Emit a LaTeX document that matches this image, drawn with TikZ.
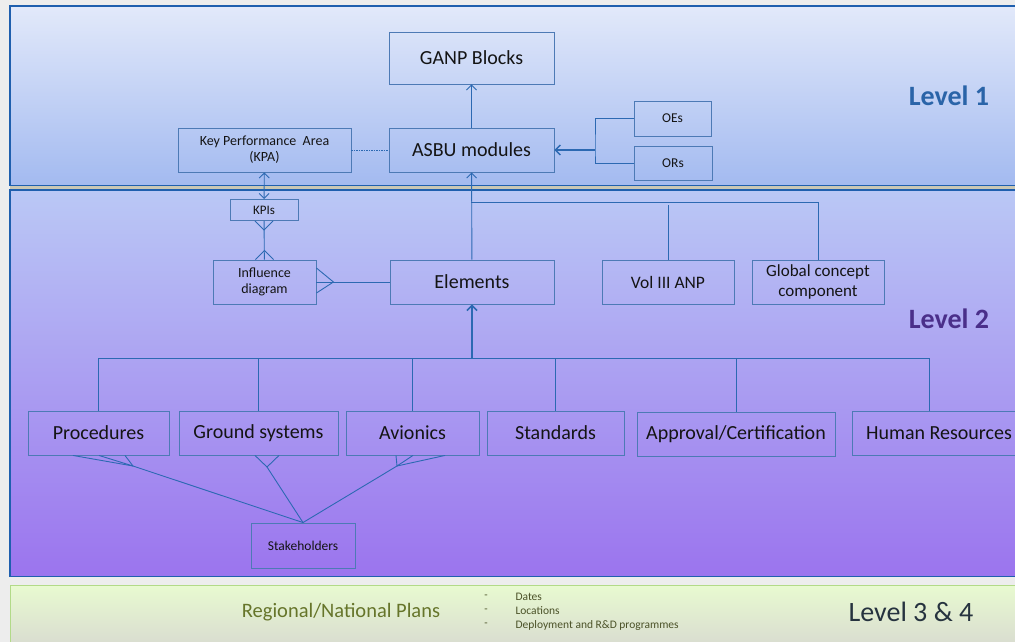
\documentclass[tikz,border=0pt]{standalone}
\usepackage{fontspec}
\setmainfont{Carlito}
\usetikzlibrary{arrows.meta}

\definecolor{frameblue}{HTML}{1F5FAE}
\definecolor{boxline}{HTML}{4D7AB5}
\definecolor{wire}{HTML}{2C69B2}
\definecolor{lvlonetop}{HTML}{E2E9FA}
\definecolor{lvlonebot}{HTML}{A3BAF0}
\definecolor{lvltwotop}{HTML}{BAC8F5}
\definecolor{lvltwomid}{HTML}{AEA0F0}
\definecolor{lvltwobot}{HTML}{9B74EE}
\definecolor{lvlthreetop}{HTML}{E8FAD0}
\definecolor{lvlthreebot}{HTML}{D8DAD0}
\definecolor{greenline}{HTML}{B2DA88}
\definecolor{sepgray}{HTML}{C9C7B5}
\definecolor{onetext}{HTML}{2A64A8}
\definecolor{twotext}{HTML}{4A2F8A}
\definecolor{threetext}{HTML}{26333F}
\definecolor{plantext}{HTML}{66752A}
\definecolor{itemtext}{HTML}{4B5228}

\tikzset{
  box/.style={draw=boxline, line width=0.9pt, inner sep=1pt, align=center,
    text=black!92, minimum height=44pt},
  wire/.style={draw=wire, line width=0.9pt},
  barb/.style={-{Straight Barb[length=5pt,width=10pt]}},
  big/.style={font=\fontsize{20}{22}\selectfont},
  mid/.style={font=\fontsize{17.5}{20}\selectfont},
  small/.style={font=\fontsize{13.5}{16}\selectfont},
  level/.style={font=\fontsize{28}{30}\selectfont\bfseries},
}

\begin{document}
\begin{tikzpicture}[x=1pt,y=-1pt]
  \clip (0,0) rectangle (1015,642);
  \fill[black!7] (0,0) rectangle (1015,642);

  % the three level panels
  \draw[frameblue, line width=1.2pt, top color=lvlonetop, bottom color=lvlonebot]
    (10,6) rectangle (1030,185.5);
  \fill[sepgray] (10,186) rectangle (1030,189.5);
  \draw[frameblue, line width=1.2pt, top color=lvltwotop, middle color=lvltwomid,
    bottom color=lvltwobot] (10,190) rectangle (1030,576.5);
  \draw[greenline, line width=1pt, top color=lvlthreetop, bottom color=lvlthreebot]
    (10,585) rectangle (1030,650);

  % level 1
  \node[box, big, minimum width=165pt, minimum height=52pt] (ganp) at (471.5,58) {GANP Blocks};
  \node[box, big, minimum width=165pt] (asbu) at (471.5,150) {ASBU modules};
  \node[box, font=\fontsize{14}{16}\selectfont, minimum width=173pt] (kpa) at (264.5,150)
    {Key Performance~~Area\\(KPA)};
  \node[box, small, minimum width=77pt, minimum height=35pt] (oes) at (672.5,118.5) {OEs};
  \node[box, small, minimum width=78pt, minimum height=34pt] (ors) at (673,163) {ORs};

  % level 2
  \node[box, font=\fontsize{13}{14}\selectfont, minimum width=68pt, minimum height=21pt]
    (kpis) at (264,210) {KPIs};
  \node[box, font=\fontsize{14}{16}\selectfont, minimum width=103pt] (infl) at (264.5,282)
    {Influence\\diagram};
  \node[box, big, minimum width=164pt] (elem) at (472,282) {Elements};
  \node[box, mid, minimum width=132pt] (vol) at (668,282) {Vol III ANP};
  \node[box, mid, minimum width=132pt, font=\fontsize{17}{20}\selectfont] (glob) at (818,282)
    {Global concept\\component};

  \node[box, big, minimum width=141pt] (proc) at (98.5,433) {Procedures};
  \node[box, big, minimum width=159pt] (grnd) at (258.5,433) {Ground systems};
  \node[box, big, minimum width=133pt] (avio) at (412.5,433) {Avionics};
  \node[box, big, minimum width=137pt] (stds) at (555.5,433) {Standards};
  \node[box, big, minimum width=198pt] (appr) at (736,434) {Approval/Certification};
  \node[box, big, minimum width=174pt] (hres) at (939,433) {Human Resources};
  \node[box, small, minimum width=104pt, minimum height=45pt] (stak) at (303,545.5) {Stakeholders};

  % level labels
  \node[level, text=onetext] (lvlone) at (949,96) {Level 1};
  \node[level, text=twotext] (lvltwo) at (949,319) {Level 2};
  \node[font=\fontsize{28}{30}\selectfont, text=threetext] (lvlthree) at (911,612) {Level 3 \& 4};

  % level 3 & 4
  \node[font=\fontsize{20.5}{22}\selectfont, text=plantext] (plans) at (341,612)
    {Regional/National Plans};
  \foreach \t [count=\i] in {Dates, Locations, Deployment and R\&D programmes}{
    \node[font=\fontsize{11}{12}\selectfont, text=itemtext] (dash\i) at (486,583+14*\i) {-};
    \node[font=\fontsize{11.5}{12}\selectfont, text=itemtext, anchor=west] (item\i)
      at (512,583+14*\i) {\t};
  }

  % connectors, level 1
  \draw[wire, barb] (asbu) -- (ganp);
  \draw[wire, dash pattern=on 1.5pt off 1pt] (kpa) -- (asbu);
  \coordinate (oefork) at (595,150);
  \draw[wire] (oes.west) -| (oefork) |- (ors.west);
  \draw[wire, line width=1.4pt, barb] (oefork) -- (asbu);

  % KPA, KPIs and influence diagram
  \draw[wire, {Straight Barb[length=5pt,width=10pt]}-{Straight Barb[length=5pt,width=10pt]}]
    (kpa) -- (kpis);
  \draw[wire] (kpis) -- (infl);
  \draw[wire] ([xshift=-9pt]kpis.south) -- ([yshift=-9pt]kpis.south) -- ([xshift=9pt]kpis.south);
  \draw[wire] ([xshift=-9pt]infl.north) -- ([yshift=9pt]infl.north) -- ([xshift=9pt]infl.north);
  \draw[wire] (infl) -- (elem);
  \draw[wire] ([yshift=14pt]infl.east) -- ([xshift=17pt]infl.east) -- ([yshift=-11pt]infl.east);

  % elements up to ASBU
  \draw[wire, barb] (elem) -- (asbu);
  \coordinate (split) at (471,202);
  \draw[wire] (split) -| (glob);
  \coordinate (volstub) at (668,205);
  \draw[wire] (volstub) -- (vol);

  % bus under the elements
  \coordinate (bus) at (472,358);
  \draw[wire, line width=1.6pt, barb] (bus) -- (elem);
  \foreach \b in {proc,grnd,avio,stds,appr}
    \draw[wire] (bus) -| (\b);
  \draw[wire] (bus) -| ([xshift=-10pt]hres.north);

  % stakeholders, with crow's feet
  \coordinate (pfoot) at (133,466);
  \coordinate (gfoot) at (267,467);
  \coordinate (afoot) at (397,466);
  \draw[wire] (stak.north) -- (pfoot);
  \draw[wire] (stak.north) -- (gfoot);
  \draw[wire] (stak.north) -- (afoot);
  \foreach \dx in {-25.5,0.5,26.5}
    \draw[wire] (pfoot) -- ([xshift=\dx pt]proc.south);
  \foreach \dx in {-3.5,20.5}
    \draw[wire] (gfoot) -- ([xshift=\dx pt]grnd.south);
  \foreach \dx in {-16.5,0.5,32.5}
    \draw[wire] (afoot) -- ([xshift=\dx pt]avio.south);
\end{tikzpicture}
\end{document}
